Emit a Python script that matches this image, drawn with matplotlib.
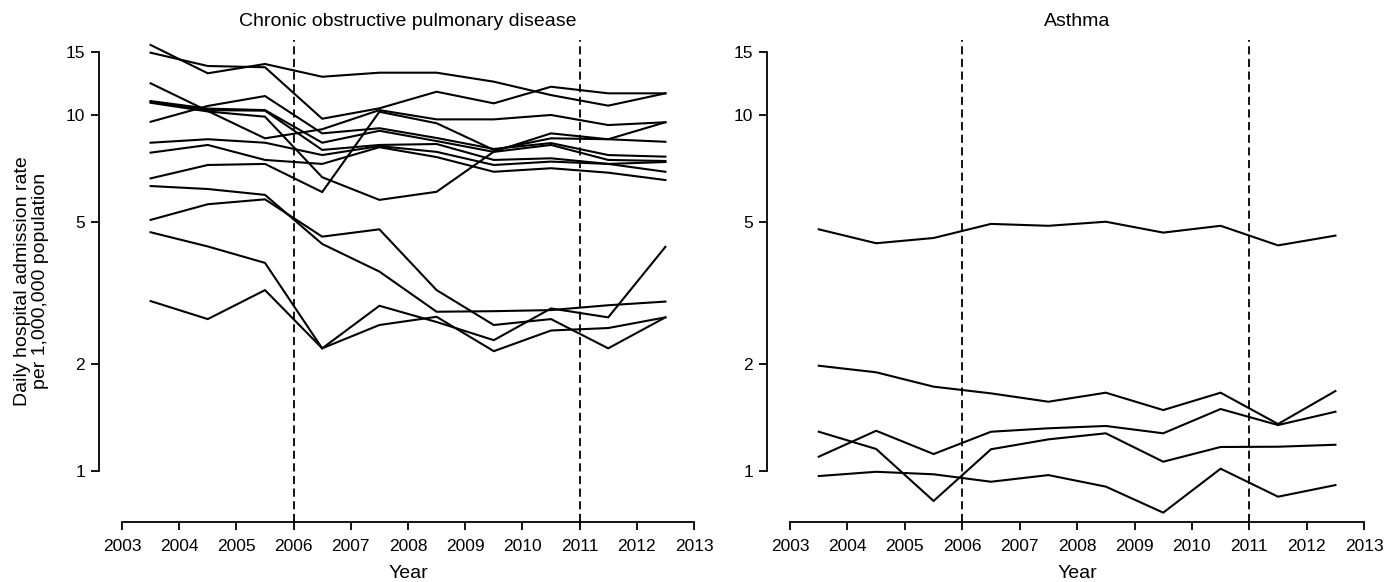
import numpy as np
import matplotlib.pyplot as plt
from matplotlib.ticker import NullLocator

plt.rcParams['font.family'] = ['Liberation Sans', 'DejaVu Sans']

# data: yearly points sit mid-year
years = [2003.5, 2004.5, 2005.5, 2006.5, 2007.5, 2008.5, 2009.5, 2010.5, 2011.5, 2012.5]
x_ticks = [2003, 2004, 2005, 2006, 2007, 2008, 2009, 2010, 2011, 2012, 2013]
y_ticks = [1, 2, 5, 10, 15]
breaks = [2006, 2011]

# COPD, one line per area
copd_1 = [15.71, 13.08, 13.89, 12.79, 13.13, 13.13, 12.39, 11.36, 10.61, 11.49]
copd_2 = [14.94, 13.71, 13.60, 9.75, 10.43, 11.61, 10.77, 11.99, 11.49, 11.49]
copd_3 = [12.26, 10.25, 8.59, 9.11, 10.31, 9.71, 9.71, 9.99, 9.36, 9.53]
copd_4 = [10.93, 10.41, 10.31, 8.35, 9.02, 8.44, 7.87, 8.23, 7.47, 7.42]
copd_5 = [10.86, 10.31, 10.27, 7.97, 8.23, 8.28, 7.47, 7.55, 7.28, 7.37]
copd_6 = [10.81, 10.22, 9.88, 6.68, 5.77, 6.08, 7.88, 8.87, 8.54, 9.53]
copd_7 = [9.56, 10.59, 11.29, 8.87, 9.17, 8.61, 8.02, 8.33, 7.71, 7.63]
copd_8 = [8.35, 8.54, 8.35, 7.71, 8.17, 7.87, 7.23, 7.39, 7.28, 6.92]
copd_9 = [7.83, 8.23, 7.47, 7.28, 8.11, 7.61, 6.92, 7.08, 6.88, 6.56]
copd_10 = [6.63, 7.23, 7.28, 6.07, 10.20, 9.47, 7.97, 8.59, 8.54, 8.40]
copd_11 = [6.31, 6.19, 5.96, 4.34, 3.63, 2.80, 2.81, 2.83, 2.92, 2.99]
copd_12 = [5.07, 5.61, 5.79, 4.55, 4.77, 3.22, 2.57, 2.67, 2.21, 2.70]
copd_13 = [4.68, 4.27, 3.84, 2.21, 2.91, 2.62, 2.33, 2.86, 2.70, 4.26]
copd_14 = [3.00, 2.67, 3.22, 2.21, 2.57, 2.71, 2.17, 2.48, 2.52, 2.70]

# Asthma
asthma_1 = [4.77, 4.36, 4.51, 4.94, 4.88, 5.01, 4.67, 4.88, 4.30, 4.58]
asthma_2 = [1.975, 1.893, 1.725, 1.652, 1.565, 1.659, 1.483, 1.659, 1.355, 1.677]
asthma_3 = [1.097, 1.297, 1.116, 1.289, 1.318, 1.338, 1.276, 1.493, 1.346, 1.467]
asthma_4 = [1.289, 1.153, 0.824, 1.151, 1.227, 1.276, 1.062, 1.168, 1.170, 1.185]
asthma_5 = [0.968, 0.995, 0.979, 0.933, 0.974, 0.904, 0.764, 1.015, 0.847, 0.913]

copd = [copd_1, copd_2, copd_3, copd_4, copd_5, copd_6, copd_7,
        copd_8, copd_9, copd_10, copd_11, copd_12, copd_13, copd_14]
asthma = [asthma_1, asthma_2, asthma_3, asthma_4, asthma_5]

W, H = 1398, 582
fig = plt.figure(figsize=(W / 100, H / 100), dpi=100)


def panel(left_px, width_px, series, title):
    ax = fig.add_axes([left_px / W, 60 / H, width_px / W, 482 / H])
    for s in series:
        ax.plot(years, s, color='black', lw=1.5, solid_joinstyle='miter')
    for b in breaks:
        ax.axvline(b, color='black', lw=1.3, dashes=(4.5, 2.5))
    ax.set_yscale('log')
    ax.set_xlim(2002.6, 2013.4)
    ax.set_ylim(0.7192, 16.22)
    ax.set_yticks(y_ticks)
    ax.set_yticklabels([str(t) for t in y_ticks])
    ax.yaxis.set_minor_locator(NullLocator())
    ax.set_xticks(x_ticks)
    ax.set_xticklabels([str(t) for t in x_ticks])
    for side in ['top', 'right']:
        ax.spines[side].set_visible(False)
    ax.spines['left'].set_bounds(1, 15)
    ax.spines['bottom'].set_bounds(2003, 2013)
    ax.spines['left'].set_linewidth(1.3)
    ax.spines['bottom'].set_linewidth(1.3)
    ax.tick_params(direction='out', length=6, width=1.3, labelsize=12.5, pad=4)
    ax.tick_params(axis='x', pad=6)
    ax.patch.set_alpha(0)
    cx = (left_px + width_px / 2) / W
    fig.text(cx, 1 - 22 / H, title, ha='center', va='center', fontsize=14)
    fig.text(cx, 1 - 573 / H, 'Year', ha='center', va='center', fontsize=14)
    return ax


panel(99.1, 617.8, copd, 'Chronic obstructive pulmonary disease')
panel(767.1, 620.0, asthma, 'Asthma')

fig.text(31.5 / W, 1 - 281 / H,
         'Daily hospital admission rate\nper 1,000,000 population',
         rotation=90, ha='center', va='center', fontsize=14,
         multialignment='center', linespacing=1.1)

fig.savefig('out.png', dpi=100)
